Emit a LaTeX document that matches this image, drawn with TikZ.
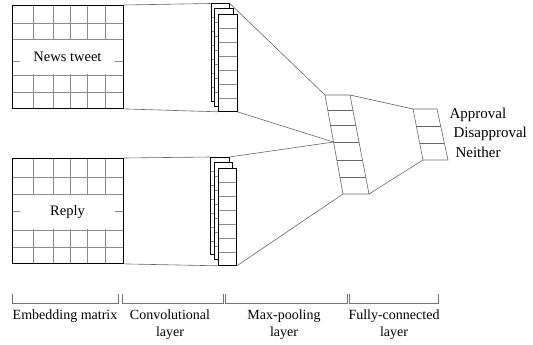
\documentclass[tikz,border=0pt]{standalone}
\usepackage{fontspec}
\setmainfont{Liberation Serif}
\usetikzlibrary{calc}
\begin{document}
\begin{tikzpicture}[x=1pt,y=-1pt,
  gridline/.style={draw=black!45, line width=0.6pt},
  border/.style={draw=black, line width=0.9pt, inner sep=0pt, anchor=north west},
  convbox/.style={draw=black, fill=white, line width=0.8pt, inner sep=0pt, anchor=north west, minimum width=18.5pt, minimum height=97pt},
  conn/.style={draw=black!60, line width=0.6pt},
  txtbox/.style={fill=white, inner sep=0pt, minimum width=95pt, minimum height=34pt, font=\rmfamily\fontsize{14.5}{17}\selectfont},
  lbl/.style={font=\rmfamily\fontsize{14}{17}\selectfont, align=center},
  outlbl/.style={font=\rmfamily\fontsize{15}{18}\selectfont, anchor=west},
  brk/.style={draw=black!55, line width=0.6pt}]
\useasboundingbox (0,0) rectangle (533,345);

% ---------- embedding matrix 1
\foreach \x in {33,53,70,87,105} \draw[gridline] (\x,5) -- (\x,108);
\foreach \y in {23,39,75,92} \draw[gridline] (12,\y) -- (123,\y);
\node[txtbox] (t1) at (67.5,57) {News tweet};
\draw[gridline] (12,61) -- (20,61) (115,61) -- (123,61);
\node[border, minimum width=111pt, minimum height=103pt] (m1) at (12,5) {};

% ---------- embedding matrix 2
\foreach \x in {33,53,70,87,105} \draw[gridline] (\x,158) -- (\x,263);
\foreach \y in {177,194,230,247} \draw[gridline] (12,\y) -- (123,\y);
\node[txtbox] (t2) at (67.5,212) {Reply};
\draw[gridline] (12,211) -- (20,211) (115,211) -- (123,211);
\node[border, minimum width=111pt, minimum height=105pt] (m2) at (12,158) {};

% ---------- convolutional stacks
\foreach \n/\px/\py in {c1a/210.5/3.5, c1b/214/8.5, c1c/218/14, c2a/210/157, c2b/213.5/162, c2c/217.5/168}{
  \node[convbox] (\n) at (\px,\py) {};
  \foreach \i in {1,...,6}
    \draw[gridline] ($(\n.north west)!\i/7!(\n.south west)$) -- ($(\n.north east)!\i/7!(\n.south east)$);
  \node[convbox, fill=none] at (\px,\py) {};
}

% ---------- max-pooling layer
\coordinate (p1) at (325,95);
\coordinate (p2) at (350,95);
\coordinate (p3) at (369,194);
\coordinate (p4) at (343,194);
\draw[conn] (p1) -- (p2) -- (p3) -- (p4) -- cycle;
\foreach \f in {0.152,0.303,0.475,0.657,0.828}
  \draw[conn] ($(p1)!\f!(p4)$) -- ($(p2)!\f!(p3)$);
\coordinate (pm) at ($(p1)!0.475!(p4)$);

% ---------- fully-connected layer
\coordinate (f1) at (413,109);
\coordinate (f2) at (437,109);
\coordinate (f3) at (448,160);
\coordinate (f4) at (423,160);
\draw[conn] (f1) -- (f2) -- (f3) -- (f4) -- cycle;
\foreach \f in {0.333,0.667}
  \draw[conn] ($(f1)!\f!(f4)$) -- ($(f2)!\f!(f3)$);

% ---------- connectors
\draw[conn] (m1.north east) -- (c1a.north west);
\draw[conn] (m1.south east) -- (c1c.south west);
\draw[conn] (m2.north east) -- (c2a.north west);
\draw[conn] (m2.south east) -- (c2c.south west);
\draw[conn] (c1a.north east) -- (p1);
\draw[conn] (c1c.south east) -- (pm);
\draw[conn] (c2a.north east) -- (pm);
\draw[conn] (c2c.south east) -- (p4);
\draw[conn] (p2) -- (f1);
\draw[conn] (p3) -- (f4);

% ---------- output labels
\node[outlbl] (o1) at (446,115) {Approval};
\node[outlbl] (o2) at (450,133.5) {Disapproval};
\node[outlbl] (o3) at (452,152) {Neither};

% ---------- brackets
\draw[brk] (12,294) -- (12,303) -- (118,303) -- (118,294);
\draw[brk] (122,294) -- (122,303) -- (223,303) -- (223,294);
\draw[brk] (225,294) -- (225,303) -- (347,303) -- (347,294);
\draw[brk] (349,294) -- (349,303) -- (438,303) -- (438,294);

% ---------- layer labels
\node[lbl] (l1) at (65,316) {Embedding matrix};
\node[lbl] (l2) at (170,324.5) {Convolutional\\layer};
\node[lbl] (l3) at (284,324.5) {Max-pooling\\layer};
\node[lbl] (l4) at (394,324.5) {Fully-connected\\layer};
\end{tikzpicture}
\end{document}
